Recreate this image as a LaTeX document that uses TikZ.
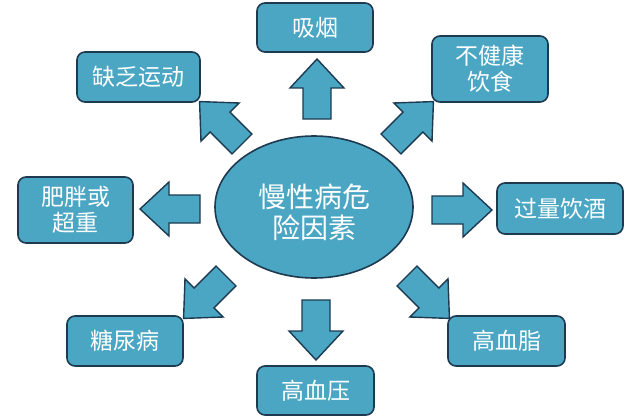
\documentclass[tikz,border=0pt]{standalone}
\usepackage{fontspec}
\setmainfont{Noto Sans CJK SC}
\usetikzlibrary{shapes.geometric}
\definecolor{tealfill}{HTML}{4AA6C3}
\definecolor{navyline}{HTML}{1D3A50}
\tikzset{
  boxsty/.style={draw=navyline, fill=tealfill, line width=1.6pt, rounded corners=8pt,
    text=white, align=center, inner sep=0pt,
    font=\fontsize{23pt}{26pt}\selectfont},
  ellsty/.style={ellipse, draw=navyline, fill=tealfill, line width=1.6pt,
    inner sep=0pt, minimum width=198pt, minimum height=142pt},
  ctextsty/.style={text=white, align=center, inner sep=0pt,
    font=\fontsize{28pt}{31pt}\selectfont},
  arrsty/.style={draw=navyline, fill=tealfill, line width=1.4pt, line join=miter},
  blockarr/.pic={\path[arrsty] (0,-14) -- (31,-14) -- (31,-27) -- (60,0) -- (31,27) -- (31,14) -- (0,14) -- cycle;}
}
\begin{document}
\begin{tikzpicture}[x=1pt,y=-1pt]
\useasboundingbox[fill=white] (0,0) rectangle (640,420);
% centre
\node[ellsty] (c) at (314,207) {};
\node[ctextsty] (ctext) at ([yshift=-5pt]c.center) {慢性病危\\险因素};
% boxes
\node[boxsty, minimum width=116pt, minimum height=49pt] (smoke) at (315,27.5) {吸烟};
\node[boxsty, minimum width=123pt, minimum height=50pt] (sport) at (138.5,77) {缺乏运动};
\node[boxsty, minimum width=116pt, minimum height=66pt] (diet) at (490,69) {不健康\\饮食};
\node[boxsty, minimum width=115pt, minimum height=66pt] (fat) at (75.5,210) {肥胖或\\超重};
\node[boxsty, minimum width=126pt, minimum height=51pt] (wine) at (560,208.5) {过量饮酒};
\node[boxsty, minimum width=116pt, minimum height=50pt] (sugar) at (125,341) {糖尿病};
\node[boxsty, minimum width=117pt, minimum height=49pt] (bp) at (315.5,390.5) {高血压};
\node[boxsty, minimum width=117pt, minimum height=50pt] (lip) at (506.5,341) {高血脂};
% block arrows
\pic[rotate=90] at (317,119) {blockarr};
\pic[rotate=135] at (242,144) {blockarr};
\pic[rotate=45] at (391,144) {blockarr};
\pic[rotate=0] at (432,210) {blockarr};
\pic[rotate=180] at (200,209) {blockarr};
\pic[rotate=225] at (226,276) {blockarr};
\pic[rotate=270] at (316,300) {blockarr};
\pic[rotate=315] at (407,276) {blockarr};
\end{tikzpicture}
\end{document}
